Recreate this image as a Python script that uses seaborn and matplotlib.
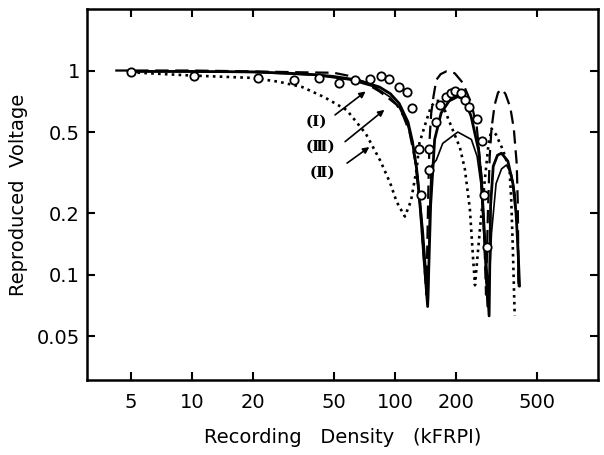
import matplotlib
matplotlib.use("Agg")
import matplotlib.pyplot as plt
import seaborn as sns
import numpy as np

# ---- data ----
x_ticks = [5, 10, 20, 50, 100, 200, 500]
x_tick_labels = ["5", "10", "20", "50", "100", "200", "500"]
y_ticks = [0.05, 0.1, 0.2, 0.5, 1]
y_tick_labels = ["0.05", "0.1", "0.2", "0.5", "1"]

# measured points (open circles)
meas_x = [5.05, 10.3, 21.1, 31.7, 42.4, 52.8, 63.4, 75.5, 85.2, 93.9, 104.9, 115.2,
          122.1, 131.5, 135, 148, 148, 160, 167, 178, 190, 198, 211, 221, 233, 253,
          267, 274, 283]
meas_y = [0.978, 0.94, 0.924, 0.90, 0.918, 0.867, 0.894, 0.91, 0.935, 0.908, 0.83,
          0.784, 0.657, 0.413, 0.246, 0.414, 0.327, 0.563, 0.68, 0.746, 0.78, 0.79,
          0.775, 0.72, 0.666, 0.58, 0.45, 0.245, 0.137]

# curve (I): thick solid
c1_x = [5, 10, 20, 30, 40, 50, 60, 70, 84, 95, 105, 116, 122, 128, 134, 140, 145,
        150, 157, 169, 185, 204, 220, 237, 258, 267, 278, 291, 296, 305, 320, 335,
        360, 381, 395, 404, 411]
c1_y = [0.99, 0.99, 0.985, 0.97, 0.955, 0.935, 0.91, 0.88, 0.83, 0.77, 0.69, 0.56,
        0.45, 0.33, 0.2, 0.11, 0.07, 0.22, 0.46, 0.62, 0.71, 0.746, 0.72, 0.6, 0.41,
        0.29, 0.14, 0.063, 0.22, 0.34, 0.385, 0.394, 0.36, 0.28, 0.2, 0.133, 0.088]

# thin solid curve
c4_x = [5, 20, 40, 60, 80, 95, 105, 115, 122, 130, 138, 146, 148, 151, 160, 172,
        204, 238, 254, 265, 273, 279, 285, 293, 299, 315, 335, 354, 375, 390, 400, 406]
c4_y = [0.99, 0.98, 0.95, 0.9, 0.83, 0.74, 0.66, 0.55, 0.44, 0.3, 0.16, 0.075, 0.19,
        0.34, 0.365, 0.44, 0.50, 0.46, 0.38, 0.28, 0.17, 0.11, 0.07, 0.1, 0.16, 0.28,
        0.33, 0.345, 0.31, 0.25, 0.17, 0.088]

# curve (III): long dashed
c3_x = [4.2, 10, 20, 35, 50, 60, 70, 84, 95, 102, 110, 118, 126, 133, 139, 143,
        146, 148, 151, 155, 160, 168, 179, 197, 216, 238, 253, 267, 275, 281, 287,
        293, 299, 310, 322, 335, 350, 370, 385, 398, 403, 406]
c3_y = [1.0, 1.0, 0.99, 0.98, 0.975, 0.94, 0.88, 0.79, 0.72, 0.68, 0.6, 0.5, 0.36,
        0.22, 0.12, 0.08, 0.25, 0.45, 0.62, 0.75, 0.90, 0.96, 0.99, 0.97, 0.87, 0.69,
        0.53, 0.30, 0.16, 0.08, 0.2, 0.38, 0.52, 0.68, 0.78, 0.81, 0.77, 0.66, 0.52,
        0.35, 0.22, 0.09]

# curve (II): dotted
c2_x = [5, 10, 20, 27, 35, 45, 58, 72, 85, 95, 102, 112, 120, 128, 132, 143, 151,
        160, 168, 176, 193, 209, 221, 234, 243, 248, 262, 277, 288, 299, 315, 340,
        367, 374, 381, 389]
c2_y = [0.98, 0.945, 0.92, 0.88, 0.83, 0.74, 0.64, 0.49, 0.36, 0.28, 0.228, 0.193,
        0.23, 0.33, 0.44, 0.57, 0.67, 0.71, 0.71, 0.64, 0.51, 0.42, 0.33, 0.21, 0.118,
        0.089, 0.166, 0.29, 0.42, 0.52, 0.485, 0.41, 0.326, 0.233, 0.133, 0.063]

labels = ["(Ⅰ)", "(Ⅲ)", "(Ⅱ)"]
label_pos = [(41.0, 0.56), (43.0, 0.425), (44.0, 0.315)]
arrow_tail = [(49.5, 0.595), (55.5, 0.44), (56.7, 0.346)]
arrow_head = [(73.6, 0.805), (91.0, 0.655), (76.8, 0.43)]

# ---- plotting ----
sns.set_style("ticks")
plt.rcParams['font.family'] = ['DejaVu Sans']
for k in ["text.color", "axes.labelcolor", "xtick.color", "ytick.color",
          "axes.edgecolor"]:
    plt.rcParams[k] = "black"

fig = plt.figure(figsize=(6.04, 4.55), dpi=100)
ax = fig.add_axes([87 / 604, 75 / 455, 511 / 604, 371 / 455])
ax.set_xscale("log")
ax.set_yscale("log")

sns.lineplot(x=c3_x, y=c3_y, sort=False, estimator=None, color="black", lw=1.6,
             ax=ax).lines[-1].set_dashes([6, 3])
sns.lineplot(x=c2_x, y=c2_y, sort=False, estimator=None, color="black", lw=1.9,
             ax=ax).lines[-1].set_dashes([1.0, 1.6])
sns.lineplot(x=c4_x, y=c4_y, sort=False, estimator=None, color="black", lw=1.2, ax=ax)
sns.lineplot(x=c1_x, y=c1_y, sort=False, estimator=None, color="black", lw=2.0, ax=ax)
sns.scatterplot(x=meas_x, y=meas_y, marker="o", s=36, facecolor="white",
                edgecolor="black", linewidth=1.3, zorder=5, ax=ax)

for lab, pos, t, h in zip(labels, label_pos, arrow_tail, arrow_head):
    ax.text(pos[0], pos[1], lab, fontsize=11, fontweight="bold", ha="center",
            va="center", family=["DejaVu Serif", "DejaVu Sans"])
    ax.annotate("", xy=h, xytext=t,
                arrowprops=dict(arrowstyle="-|>", color="black", lw=1.2,
                                mutation_scale=9))

ax.set_xlim(3.05, 1000)
ax.set_ylim(0.0306, 2.0)
ax.set_xticks(x_ticks)
ax.set_xticklabels(x_tick_labels)
ax.set_yticks(y_ticks)
ax.set_yticklabels(y_tick_labels)
ax.minorticks_off()
ax.tick_params(which="major", direction="in", top=True, right=True, length=6,
               width=1.5, labelsize=14, colors="black")
ax.tick_params(axis="x", pad=9)
ax.tick_params(axis="y", pad=5)
for sp in ax.spines.values():
    sp.set_linewidth(1.8)
    sp.set_color("black")
    sp.set_visible(True)

ax.set_xlabel("Recording   Density   (kFRPI)", fontsize=14, labelpad=12)
ax.set_ylabel("Reproduced  Voltage", fontsize=14, labelpad=6)

fig.savefig("out.png", dpi=100)
